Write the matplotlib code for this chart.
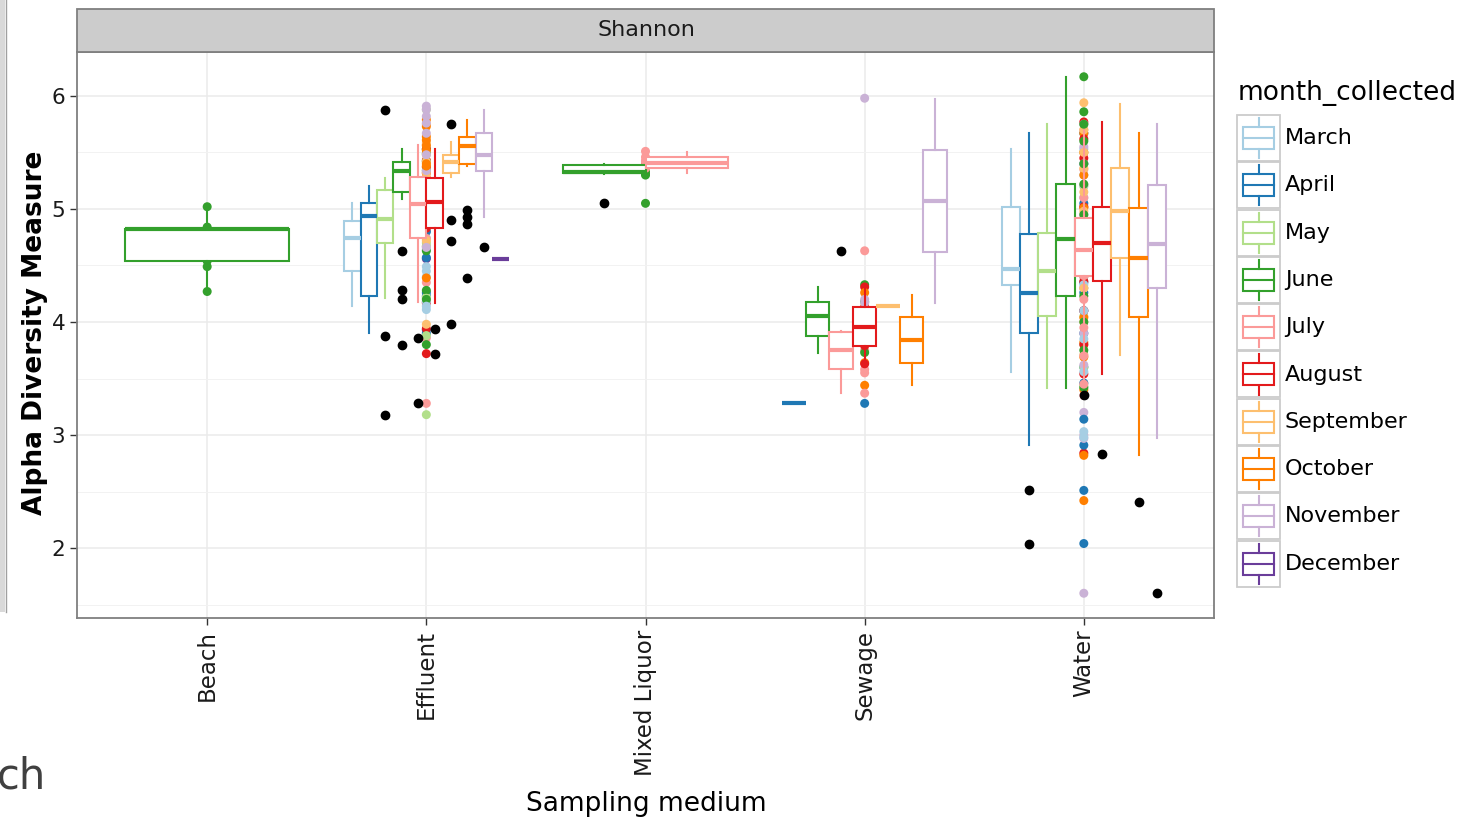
import numpy as np
import matplotlib.pyplot as plt
from matplotlib.patches import Rectangle

# categories and groups
media = ['Beach', 'Effluent', 'Mixed Liquor', 'Sewage', 'Water']
months = ['March', 'April', 'May', 'June', 'July', 'August',
          'September', 'October', 'November', 'December']
month_colors = ['#A6CEE3', '#1F78B4', '#B2DF8A', '#33A02C', '#FB9A99',
                '#E31A1C', '#FDBF6F', '#FF7F00', '#CAB2D6', '#6A3D9A']

# box summaries: month -> (whisker low, q1, median, q3, whisker high)
beach_box = {'June': (4.27, 4.54, 4.82, 4.82, 5.02)}
effluent_box = {
    'March': (4.14, 4.45, 4.74, 4.89, 5.05),
    'April': (3.90, 4.23, 4.94, 5.05, 5.20),
    'May': (4.21, 4.70, 4.91, 5.17, 5.27),
    'June': (5.09, 5.15, 5.34, 5.42, 5.53),
    'July': (4.18, 4.74, 5.04, 5.28, 5.57),
    'August': (4.17, 4.83, 5.06, 5.27, 5.53),
    'September': (5.28, 5.32, 5.42, 5.48, 5.59),
    'October': (5.38, 5.40, 5.56, 5.64, 5.79),
    'November': (4.93, 5.34, 5.48, 5.67, 5.88),
    'December': (4.56, 4.56, 4.56, 4.56, 4.56),
}
mixed_box = {
    'June': (5.31, 5.315, 5.33, 5.39, 5.40),
    'July': (5.32, 5.36, 5.41, 5.46, 5.50),
}
sewage_box = {
    'April': (3.28, 3.28, 3.28, 3.28, 3.28),
    'June': (3.73, 3.88, 4.05, 4.18, 4.31),
    'July': (3.37, 3.58, 3.75, 3.91, 3.92),
    'August': (3.63, 3.79, 3.96, 4.13, 4.31),
    'September': (4.14, 4.14, 4.14, 4.14, 4.14),
    'October': (3.44, 3.64, 3.84, 4.04, 4.24),
    'November': (4.17, 4.62, 5.07, 5.52, 5.97),
}
water_box = {
    'March': (3.56, 4.33, 4.47, 5.015, 5.53),
    'April': (2.91, 3.90, 4.26, 4.78, 5.67),
    'May': (3.42, 4.05, 4.45, 4.79, 5.75),
    'June': (3.42, 4.23, 4.73, 5.22, 6.17),
    'July': (3.45, 4.41, 4.64, 4.92, 5.70),
    'August': (3.54, 4.36, 4.70, 5.02, 5.77),
    'September': (3.71, 4.57, 4.98, 5.36, 5.93),
    'October': (2.82, 4.04, 4.57, 5.01, 5.67),
    'November': (2.97, 4.30, 4.69, 5.21, 5.75),
}

# outliers (black)
effluent_out = {'May': [5.88, 3.88, 3.18], 'June': [4.63, 4.28, 4.20, 3.80],
                'July': [3.86, 3.28], 'August': [3.94, 3.72],
                'September': [5.75, 4.90, 4.72, 3.98],
                'October': [4.99, 4.93, 4.87, 4.39], 'November': [4.66]}
mixed_out = {'June': [5.05]}
sewage_out = {'July': [4.63]}
water_out = {'April': [2.51, 2.04], 'July': [3.35], 'August': [2.83],
             'October': [2.41], 'November': [1.60]}

# sample points (drawn at the category centre)
beach_pts = {'June': [5.02, 4.84, 4.82, 4.81, 4.54, 4.49, 4.27]}
effluent_pts = {
    'March': [5.05, 4.89, 4.80, 4.74, 4.64, 4.49, 4.45, 4.40, 4.18, 4.14, 4.11],
    'April': [5.20, 5.05, 4.94, 4.80, 4.57, 4.26, 4.23, 3.93, 3.90],
    'May': [5.88, 5.27, 5.17, 5.00, 4.91, 4.70, 4.67, 4.22, 4.21, 3.88, 3.18],
    'June': [5.53, 5.49, 5.42, 5.34, 5.15, 5.09, 4.63, 4.28, 4.20, 3.80],
    'July': [5.57, 5.28, 5.04, 4.90, 4.74, 4.67, 4.35, 4.18, 3.86, 3.28],
    'August': [5.53, 5.43, 5.37, 5.32, 5.27, 5.06, 4.83, 4.17, 3.94, 3.72],
    'September': [5.75, 5.59, 5.57, 5.48, 5.42, 5.32, 5.28, 4.90, 4.72, 3.98],
    'October': [5.79, 5.73, 5.64, 5.61, 5.56, 5.52, 5.40, 5.38, 4.99, 4.93, 4.87, 4.39],
    'November': [5.91, 5.88, 5.82, 5.76, 5.67, 5.48, 5.34, 4.93, 4.66],
    'December': [4.56],
}
mixed_pts = {'June': [5.40, 5.33, 5.31, 5.30, 5.05],
             'July': [5.51, 5.46, 5.43, 5.41, 5.36]}
sewage_pts = {
    'April': [3.28],
    'June': [4.33, 4.18, 4.05, 3.88, 3.73],
    'July': [4.63, 3.92, 3.80, 3.75, 3.58, 3.55, 3.37],
    'August': [4.31, 4.13, 4.00, 3.96, 3.85, 3.79, 3.63],
    'September': [4.14],
    'October': [4.26, 4.04, 3.84, 3.64, 3.44],
    'November': [5.98, 4.20, 4.17],
}
water_pts = {
    'March': [5.53, 5.30, 5.10, 5.02, 4.85, 4.60, 4.47, 4.40, 4.33, 4.10, 3.85, 3.56, 3.03, 2.98],
    'April': [5.67, 5.40, 5.05, 4.78, 4.55, 4.35, 4.26, 4.10, 3.90, 3.60, 3.46, 3.14, 2.91, 2.51, 2.04],
    'May': [5.75, 5.50, 5.20, 4.79, 4.60, 4.45, 4.30, 4.05, 3.80, 3.60, 3.43],
    'June': [6.17, 5.86, 5.75, 5.60, 5.40, 5.22, 4.95, 4.73, 4.50, 4.23, 4.00, 3.75, 3.42],
    'July': [5.70, 5.35, 5.10, 4.92, 4.80, 4.70, 4.64, 4.55, 4.41, 4.20, 3.95, 3.70, 3.45, 3.35],
    'August': [5.77, 5.62, 5.45, 5.02, 4.85, 4.70, 4.55, 4.36, 4.10, 3.80, 3.54, 2.84],
    'September': [5.94, 5.70, 5.50, 5.36, 5.15, 4.98, 4.80, 4.57, 4.30, 4.00, 3.71],
    'October': [5.67, 5.50, 5.30, 5.01, 4.80, 4.57, 4.40, 4.04, 3.82, 3.69, 3.40, 2.82, 2.42],
    'November': [5.75, 5.55, 5.40, 5.21, 4.95, 4.69, 4.50, 4.30, 3.90, 3.62, 3.20, 3.00, 2.97, 1.60],
}

all_boxes = [beach_box, effluent_box, mixed_box, sewage_box, water_box]
all_out = [{}, effluent_out, mixed_out, sewage_out, water_out]
all_pts = [beach_pts, effluent_pts, mixed_pts, sewage_pts, water_pts]
color_of = dict(zip(months, month_colors))

fig = plt.figure(figsize=(14.64, 8.22), dpi=100)
ax = fig.add_axes([77 / 1464, 1 - 618 / 822, (1214 - 77) / 1464, (618 - 52) / 822])

for ci in range(len(media)):
    xc = ci + 1
    # points, interleaved month by month
    pts = all_pts[ci]
    xs, ys, cs = [], [], []
    longest = max(len(v) for v in pts.values())
    for k in range(longest):
        for m, vals in pts.items():
            if k < len(vals):
                xs.append(xc)
                ys.append(vals[k])
                cs.append(color_of[m])
    ax.scatter(xs, ys, s=42, c=cs, linewidths=0, zorder=2)

    boxes = all_boxes[ci]
    n = len(boxes)
    step = 0.75 / n
    for gi, (m, st) in enumerate(boxes.items()):
        pos = xc - 0.375 + (gi + 0.5) * step
        col = color_of[m]
        stats = dict(whislo=st[0], q1=st[1], med=st[2], q3=st[3], whishi=st[4],
                     fliers=all_out[ci].get(m, []))
        ax.bxp([stats], positions=[pos], widths=[step], patch_artist=True,
               showcaps=False, manage_ticks=False, zorder=3,
               boxprops=dict(facecolor='white', edgecolor=col, linewidth=1.5),
               medianprops=dict(color=col, linewidth=3, solid_capstyle='butt'),
               whiskerprops=dict(color=col, linewidth=1.5),
               flierprops=dict(marker='o', markerfacecolor='black',
                               markeredgecolor='black', markersize=6))

ax.set_xlim(0.406, 5.594)
ax.set_ylim(1.381, 6.389)
ax.set_xticks(range(1, 6))
ax.set_xticklabels(media, rotation=90, fontsize=16.5, color='#1a1a1a')
ax.set_yticks([2, 3, 4, 5, 6])
ax.set_yticklabels(['2', '3', '4', '5', '6'], fontsize=15.5, color='#1a1a1a')
ax.set_yticks([1.5, 2.5, 3.5, 4.5, 5.5], minor=True)
ax.tick_params(axis='y', which='minor', length=0)
ax.tick_params(axis='both', which='major', length=5, width=1, color='#333333')
ax.grid(True, which='major', color='#EBEBEB', linewidth=1.1, zorder=0)
ax.grid(True, which='minor', axis='y', color='#F2F2F2', linewidth=0.7, zorder=0)
ax.set_axisbelow(True)
for sp in ax.spines.values():
    sp.set_color('#7F7F7F')
    sp.set_linewidth(1.3)

# overlay in pixel coordinates for strip, labels and legend
lax = fig.add_axes([0, 0, 1, 1], facecolor='none')
lax.set_xlim(0, 1464)
lax.set_ylim(822, 0)
lax.axis('off')

lax.add_patch(Rectangle((77, 9), 1137, 43, facecolor='#CCCCCC',
                        edgecolor='#7F7F7F', linewidth=1.3))
lax.text(646, 30, 'Shannon', ha='center', va='center', fontsize=16, color='#1a1a1a')

lax.text(35, 333, 'Alpha Diversity Measure', rotation=90, ha='center',
         va='center', fontsize=19, fontweight='bold')
lax.text(646, 804, 'Sampling medium', ha='center', va='center', fontsize=19)

# slide remnants on the left
lax.add_patch(Rectangle((0, 0), 5, 612, facecolor='#D9D9D9', edgecolor='none'))
lax.plot([5.5, 5.5], [0, 612], color='#A0A0A0', linewidth=1)
lax.text(-3, 776, 'ch', ha='left', va='center', fontsize=30, color='#404040')

# legend
lax.text(1238, 93, 'month_collected', ha='left', va='center', fontsize=19)
for k, (m, col) in enumerate(zip(months, month_colors)):
    top = 115 + k * 47.3
    lax.add_patch(Rectangle((1237, top), 43, 46, facecolor='white',
                            edgecolor='#CCCCCC', linewidth=1.3))
    lax.add_patch(Rectangle((1243, top + 12), 31, 22, facecolor='white',
                            edgecolor=col, linewidth=1.5))
    lax.plot([1243, 1274], [top + 23, top + 23], color=col, linewidth=1.5)
    lax.plot([1258.5, 1258.5], [top + 3, top + 12], color=col, linewidth=1.5)
    lax.plot([1258.5, 1258.5], [top + 34, top + 43], color=col, linewidth=1.5)
    lax.text(1285, top + 23, m, ha='left', va='center', fontsize=16)

fig.savefig('out.png', dpi=100)
